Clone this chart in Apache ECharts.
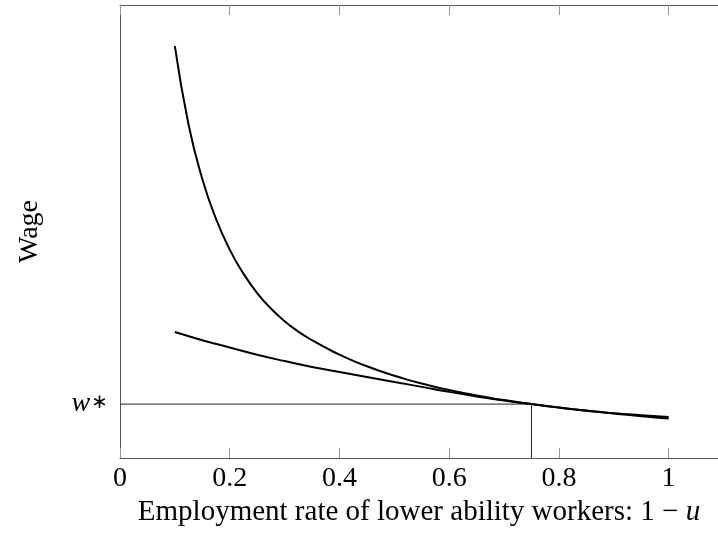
<!DOCTYPE html>
<html>
<head>
<meta charset="utf-8">
<script src="https://cdn.jsdelivr.net/npm/echarts@6/dist/echarts.min.js"></script>
<style>
  html, body { margin: 0; padding: 0; background: #fff; }
  #chart { width: 718px; height: 538px; }
</style>
</head>
<body>
<div id="chart"></div>
<script>
  // employment rate (1 - u) and wage
  const steepX = [0.1, 0.125, 0.15, 0.175, 0.2, 0.225, 0.25, 0.275, 0.3, 0.325, 0.35, 0.375, 0.4, 0.425, 0.45, 0.475, 0.5, 0.525, 0.55, 0.575, 0.6, 0.625, 0.65, 0.675, 0.7, 0.725, 0.75, 0.775, 0.8, 0.825, 0.85, 0.875, 0.9, 0.925, 0.95, 0.975, 1.0]
  const steepY = [9.09, 7.355, 6.16, 5.28, 4.60, 4.07, 3.64, 3.30, 3.02, 2.79, 2.60, 2.435, 2.28, 2.145, 2.025, 1.915, 1.815, 1.725, 1.643, 1.568, 1.50, 1.438, 1.38, 1.327, 1.278, 1.233, 1.19, 1.15, 1.113, 1.078, 1.045, 1.013, 0.982, 0.952, 0.923, 0.896, 0.87]
  const flatX = [0.1, 0.15, 0.2, 0.25, 0.3, 0.35, 0.4, 0.45, 0.5, 0.55, 0.6, 0.65, 0.7, 0.75, 0.8, 0.85, 0.9, 0.95, 1.0]
  const flatY = [2.78, 2.60, 2.44, 2.28, 2.14, 2.01, 1.90, 1.79, 1.68, 1.57, 1.46, 1.36, 1.27, 1.19, 1.115, 1.05, 0.99, 0.945, 0.905]
  const wStar = 1.19
  const uStar = 0.75
  const xTicks = [0, 0.2, 0.4, 0.6, 0.8, 1]

  const font = 'Liberation Serif, Times New Roman, serif'
  const zip = (xs, ys) => xs.map((x, i) => [x, ys[i]])

  const chart = echarts.init(document.getElementById('chart'), null, {renderer: 'canvas'})
  const xCommon = {
    type: 'value',
    min: 0,
    max: 1.09,
    splitLine: {show: false},
    axisLine: {show: true, onZero: false, lineStyle: {color: '#555', width: 1}},
    axisTick: {show: true, inside: true, length: 10, customValues: xTicks, lineStyle: {color: '#999'}}
  }
  const curve = {
    type: 'line',
    smooth: 0.5,
    showSymbol: false,
    lineStyle: {color: '#000', width: 2}
  }
  const option = {
    animation: false,
    grid: {left: 120, right: 0, top: 5, bottom: 80},
    xAxis: [
      Object.assign({}, xCommon, {
        position: 'bottom',
        name: 'Employment rate of lower ability workers: 1 − {u|u}',
        nameLocation: 'middle',
        nameGap: 21,
        nameTextStyle: {
          fontFamily: font, fontSize: 29, color: '#000',
          rich: {u: {fontFamily: font, fontSize: 29, fontStyle: 'italic', color: '#000'}}
        },
        axisLabel: {customValues: xTicks, margin: 7, fontFamily: font, fontSize: 28, color: '#000'}
      }),
      Object.assign({}, xCommon, {
        position: 'top',
        axisLabel: {show: false}
      })
    ],
    yAxis: {
      type: 'value',
      min: 0,
      max: 10,
      splitLine: {show: false},
      name: 'Wage',
      nameLocation: 'middle',
      nameRotate: 90,
      nameGap: 76,
      nameTextStyle: {fontFamily: font, fontSize: 28, color: '#000'},
      axisLine: {show: true, lineStyle: {color: '#555', width: 1}},
      axisTick: {show: false},
      axisLabel: {
        customValues: [wStar],
        formatter: () => '{w|w}{s|∗}',
        margin: 12,
        rich: {
          w: {fontFamily: font, fontStyle: 'italic', fontSize: 28, color: '#000'},
          s: {fontFamily: 'DejaVu Sans', fontSize: 20, color: '#000', padding: [0, 0, 2, 1]}
        }
      }
    },
    series: [
      {
        type: 'line',
        data: [[0, wStar], [uStar, wStar], [uStar, 0]],
        showSymbol: false,
        lineStyle: {color: '#222', width: 1}
      },
      Object.assign({data: zip(steepX, steepY)}, curve),
      Object.assign({data: zip(flatX, flatY)}, curve)
    ]
  }
  chart.setOption(option)
</script>
</body>
</html>
